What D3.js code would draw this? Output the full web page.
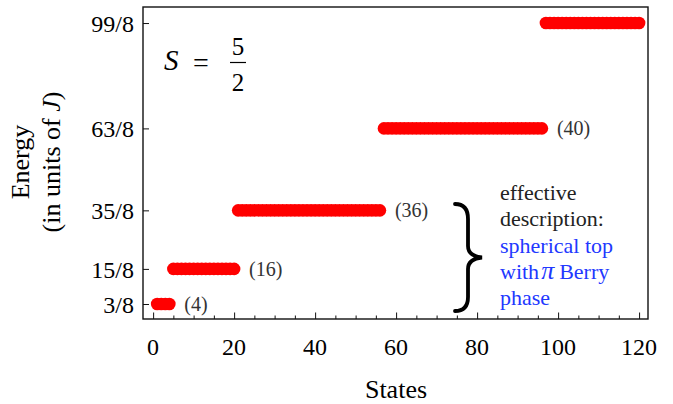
<!DOCTYPE html>
<html lang="en">
    <head>
        <title>Energy levels, S = 5/2</title>
        <script src="https://d3js.org/d3.v7.min.js"></script>
        <style>
            body { margin: 0; background: white; }
            text { font-family: "Liberation Serif", "Times New Roman", serif; }
        </style>
    </head>
    <body>
    <div id="mainDiv">
    </div>

        <script type="text/javascript">
            // energy levels and how many states sit on each
            const levelLabels = ['3/8', '15/8', '35/8', '63/8', '99/8']
            const levelEnergies = [0.375, 1.875, 4.375, 7.875, 12.375]
            const degeneracies = [4, 16, 36, 40, 24]
            const countLabels = ['(4)', '(16)', '(36)', '(40)', '']
            const xTickValues = [0, 20, 40, 60, 80, 100, 120]
            const noteLines = ['effective', 'description:']

            const width = 673
            const height = 404

            const margins = {
                top: 7,
                bottom: 85,
                left: 143,
                right: 25
            }

            const bounded = {
                width: width - margins.left - margins.right,
                height: height - margins.top - margins.bottom
            }

            const svg = d3.select('#mainDiv').append('svg')
                .attr('width', width)
                .attr('height', height)

            const group = svg.append('g')
                .attr('transform', `translate(${margins.left}, ${margins.top})`)

            // one point per state, stacked level after level
            const states = []
            let n = 0
            degeneracies.forEach((deg, i) => {
                for (let k = 0; k < deg; k++) {
                    n += 1
                    states.push({ state: n, energy: levelEnergies[i] })
                }
            })
            const lastState = d3.cumsum(degeneracies)

            const xScale = d3.scaleLinear()
                .domain([-2.5, 122.2])
                .range([0, bounded.width])

            const yScale = d3.scaleLinear()
                .domain([-0.265, 13.06])
                .range([bounded.height, 0])

            // frame
            group.append('rect')
                .attr('width', bounded.width)
                .attr('height', bounded.height)
                .attr('fill', 'none')
                .attr('stroke', '#111')
                .attr('stroke-width', 1.4)

            // x axis, ticks pointing inward
            const xAxis = d3.axisBottom(xScale)
                .tickValues(d3.range(0, 121, 5))
                .tickSize(-3.5)
                .tickFormat('')
            const xAxisPlot = group.append('g')
                .attr('class', 'x axis')
                .attr('transform', `translate(0, ${bounded.height})`)
                .call(xAxis)
            xAxisPlot.select('.domain').remove()
            xAxisPlot.selectAll('.tick line')
                .attr('stroke', '#111')
                .attr('y2', d => xTickValues.includes(d) ? -6.5 : -3.5)

            group.selectAll('.xlabel')
                .data(xTickValues)
                .join('text')
                .attr('class', 'xlabel')
                .attr('x', d => xScale(d))
                .attr('y', bounded.height + 36)
                .attr('text-anchor', 'middle')
                .attr('font-size', 24)
                .text(d => d)

            // y axis with the level values
            const yAxis = d3.axisLeft(yScale)
                .tickValues(levelEnergies)
                .tickSize(-6)
                .tickFormat((d, i) => levelLabels[i])
            const yAxisPlot = group.append('g')
                .attr('class', 'y axis')
                .call(yAxis)
            yAxisPlot.select('.domain').remove()
            yAxisPlot.selectAll('.tick line').attr('stroke', '#111')
            yAxisPlot.selectAll('.tick text')
                .attr('x', -9)
                .attr('dy', '0.34em')
                .attr('font-size', 24)
                .attr('font-family', '"Liberation Serif", serif')
                .attr('fill', '#000')

            // states
            group.selectAll('circle')
                .data(states)
                .join('circle')
                .attr('cx', d => xScale(d.state))
                .attr('cy', d => yScale(d.energy))
                .attr('r', 6.3)
                .attr('fill', '#ff0000')

            // degeneracy counts
            group.selectAll('.count')
                .data(countLabels)
                .join('text')
                .attr('class', 'count')
                .attr('x', (d, i) => xScale(lastState[i]) + 15)
                .attr('y', (d, i) => yScale(levelEnergies[i]))
                .attr('dy', '0.34em')
                .attr('font-size', 20)
                .attr('fill', '#333')
                .text(d => d)

            // S = 5/2
            const sLabel = svg.append('g')
            sLabel.append('text')
                .attr('x', 164).attr('y', 70)
                .attr('font-size', 29)
                .attr('font-style', 'italic')
                .text('S')
            sLabel.append('text')
                .attr('x', 193).attr('y', 72)
                .attr('font-size', 28)
                .text('=')
            sLabel.append('text')
                .attr('x', 238).attr('y', 55)
                .attr('text-anchor', 'middle')
                .attr('font-size', 25)
                .text('5')
            sLabel.append('line')
                .attr('x1', 230).attr('x2', 246)
                .attr('y1', 62.5).attr('y2', 62.5)
                .attr('stroke', '#000')
                .attr('stroke-width', 1.2)
            sLabel.append('text')
                .attr('x', 238).attr('y', 91)
                .attr('text-anchor', 'middle')
                .attr('font-size', 25)
                .text('2')

            // brace and note
            svg.append('path')
                .attr('d', 'M455,204 C464,204 468,209 468,219 L468,246 C468,253 473,256.5 482,257.5 C473,258.5 468,262 468,269 L468,297 C468,306 464,311 455,311')
                .attr('fill', 'none')
                .attr('stroke', '#000')
                .attr('stroke-width', 3.8)
                .attr('stroke-linecap', 'round')

            svg.selectAll('.note')
                .data(noteLines)
                .join('text')
                .attr('class', 'note')
                .attr('x', 500)
                .attr('y', (d, i) => 200 + i * 26)
                .attr('font-size', 22)
                .attr('fill', '#222')
                .text(d => d)

            const blue = '#2238ff'
            svg.append('text')
                .attr('x', 500).attr('y', 253)
                .attr('font-size', 22).attr('fill', blue)
                .text('spherical top')
            const withLine = svg.append('text')
                .attr('x', 500).attr('y', 279)
                .attr('font-size', 22).attr('fill', blue)
            withLine.append('tspan').text('with')
            withLine.append('tspan')
                .attr('dx', 2)
                .attr('font-style', 'italic')
                .attr('font-size', 26)
                .text('π')
            withLine.append('tspan').attr('dx', 5).text('Berry')
            svg.append('text')
                .attr('x', 500).attr('y', 305)
                .attr('font-size', 22).attr('fill', blue)
                .text('phase')

            // axis titles
            svg.append('text')
                .attr('x', 396).attr('y', 398)
                .attr('text-anchor', 'middle')
                .attr('font-size', 26)
                .text('States')

            const yTitle = svg.append('text')
                .attr('transform', 'translate(29, 162) rotate(-90)')
                .attr('text-anchor', 'middle')
                .attr('font-size', 26)
            yTitle.append('tspan')
                .attr('x', 0).attr('y', 0)
                .text('Energy')
            const line2 = yTitle.append('tspan')
                .attr('x', 0).attr('y', 31)
            line2.append('tspan').text('(in units of ')
            line2.append('tspan').attr('font-style', 'italic').text('J')
            line2.append('tspan').text(')')
        </script>
    </body>
</html>
